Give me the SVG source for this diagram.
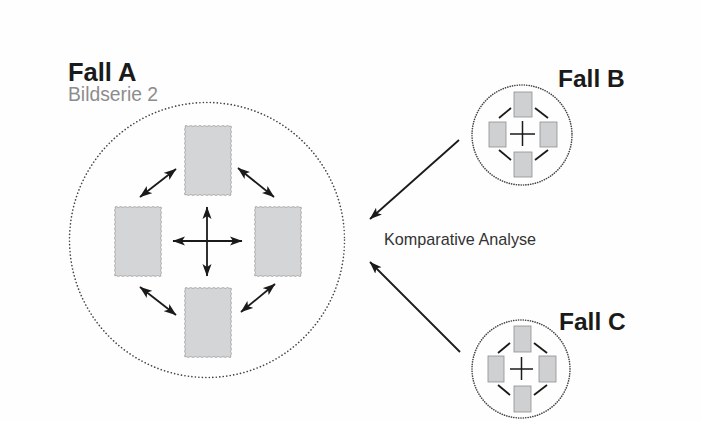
<svg xmlns="http://www.w3.org/2000/svg" width="702" height="422" viewBox="0 0 702 422">
<style>
.title{font-family:"Liberation Sans",Arial,sans-serif;font-weight:bold;fill:#1a1a1a}
.sub{font-family:"Liberation Sans",Arial,sans-serif;fill:#8c8c8c;font-size:19.3px}
.lbl{font-family:"Liberation Sans",Arial,sans-serif;fill:#333;font-size:16.2px}
.bigc{fill:none;stroke:#444;stroke-width:1.6;stroke-dasharray:0.1 3.4;stroke-linecap:round}
.smc{fill:none;stroke:#444;stroke-width:1.6;stroke-dasharray:0.1 2.3;stroke-linecap:round}
.wrect{fill:#d4d5d7;stroke:#9a9a9a;stroke-width:0.8}
.srect{fill:#cfd0d2;stroke:#8e8e8e;stroke-width:0.8}
.arr{stroke:#1a1a1a;stroke-width:1.8;fill:none;marker-start:url(#ah);marker-end:url(#ah)}
.one{stroke:#1a1a1a;stroke-width:1.8;fill:none;marker-end:url(#ah)}
.seg{stroke:#1a1a1a;stroke-width:1.8;fill:none}
.sx{stroke:#1a1a1a;stroke-width:1.5;fill:none}
</style>
<defs>
<marker id="ah" markerUnits="userSpaceOnUse" markerWidth="13" markerHeight="10" refX="12" refY="4.5" orient="auto-start-reverse" viewBox="0 0 13 9">
<path d="M0,0 L12.5,4.5 L0,9 L3,4.5 z" fill="#1a1a1a"/>
</marker>
<path id="wave" class="wrect" d="M0,0 q1.15,-0.9 2.3,0 t2.3,0 t2.3,0 t2.3,0 t2.3,0 t2.3,0 t2.3,0 t2.3,0 t2.3,0 t2.3,0 t2.3,0 t2.3,0 t2.3,0 t2.3,0 t2.3,0 t2.3,0 t2.3,0 t2.3,0 t2.3,0 t2.3,0 q0.9,1.15 0,2.3 t0,2.3 t0,2.3 t0,2.3 t0,2.3 t0,2.3 t0,2.3 t0,2.3 t0,2.3 t0,2.3 t0,2.3 t0,2.3 t0,2.3 t0,2.3 t0,2.3 t0,2.3 t0,2.3 t0,2.3 t0,2.3 t0,2.3 t0,2.3 t0,2.3 t0,2.3 t0,2.3 t0,2.3 t0,2.3 t0,2.3 t0,2.3 t0,2.3 t0,2.3 q-1.15,0.9 -2.3,0 t-2.3,0 t-2.3,0 t-2.3,0 t-2.3,0 t-2.3,0 t-2.3,0 t-2.3,0 t-2.3,0 t-2.3,0 t-2.3,0 t-2.3,0 t-2.3,0 t-2.3,0 t-2.3,0 t-2.3,0 t-2.3,0 t-2.3,0 t-2.3,0 t-2.3,0 q-0.9,-1.15 0,-2.3 t0,-2.3 t0,-2.3 t0,-2.3 t0,-2.3 t0,-2.3 t0,-2.3 t0,-2.3 t0,-2.3 t0,-2.3 t0,-2.3 t0,-2.3 t0,-2.3 t0,-2.3 t0,-2.3 t0,-2.3 t0,-2.3 t0,-2.3 t0,-2.3 t0,-2.3 t0,-2.3 t0,-2.3 t0,-2.3 t0,-2.3 t0,-2.3 t0,-2.3 t0,-2.3 t0,-2.3 t0,-2.3 t0,-2.3 z"/>
</defs>
<rect width="702" height="422" fill="#fefefe"/>

<g id="fallA">
<circle class="bigc" cx="207" cy="240" r="137.5"/>
<text class="title" x="68" y="81" font-size="25.5">Fall A</text>
<text class="sub" x="68" y="101">Bildserie 2</text>
<use href="#wave" x="185" y="126"/>
<use href="#wave" x="115" y="207"/>
<use href="#wave" x="255" y="207"/>
<use href="#wave" x="185" y="288"/>
<line class="arr" x1="173" y1="241" x2="242" y2="241"/>
<line class="arr" x1="207" y1="207" x2="207" y2="276"/>
<line class="arr" x1="140" y1="197" x2="176" y2="169"/>
<line class="arr" x1="238" y1="168" x2="274" y2="197"/>
<line class="arr" x1="140" y1="287" x2="176" y2="315"/>
<line class="arr" x1="241" y1="312" x2="275" y2="284"/>
</g>

<g id="fallB">
<circle class="smc" cx="522" cy="135" r="50"/>
<text class="title" x="558" y="87" font-size="24.5">Fall B</text>
<rect class="srect" x="514" y="92" width="18" height="25"/>
<rect class="srect" x="489" y="122" width="17" height="25"/>
<rect class="srect" x="540" y="122" width="17" height="25"/>
<rect class="srect" x="514" y="152" width="18" height="25"/>
<line class="sx" x1="510" y1="134" x2="535" y2="134"/>
<line class="sx" x1="522.5" y1="121" x2="522.5" y2="146"/>
<line class="seg" x1="499" y1="118" x2="511" y2="108"/>
<line class="seg" x1="535" y1="108" x2="548" y2="118"/>
<line class="seg" x1="499" y1="150" x2="511" y2="160"/>
<line class="seg" x1="535" y1="160" x2="548" y2="150"/>
</g>

<g id="fallC">
<circle class="smc" cx="521" cy="369" r="49"/>
<text class="title" x="559" y="330" font-size="24.5">Fall C</text>
<rect class="srect" x="514" y="326" width="17" height="26"/>
<rect class="srect" x="488" y="356" width="16" height="26"/>
<rect class="srect" x="539" y="356" width="17" height="26"/>
<rect class="srect" x="514" y="386" width="17" height="26"/>
<line class="sx" x1="510" y1="369" x2="533" y2="369"/>
<line class="sx" x1="521.5" y1="357" x2="521.5" y2="380"/>
<line class="seg" x1="498" y1="353" x2="510" y2="343"/>
<line class="seg" x1="534" y1="343" x2="547" y2="353"/>
<line class="seg" x1="498" y1="385" x2="510" y2="395"/>
<line class="seg" x1="534" y1="395" x2="547" y2="385"/>
</g>

<g id="connectors">
<line class="one" x1="459" y1="140" x2="370" y2="219"/>
<line class="one" x1="460" y1="352" x2="370" y2="262"/>
</g>
<text class="lbl" x="384" y="245">Komparative Analyse</text>
</svg>
